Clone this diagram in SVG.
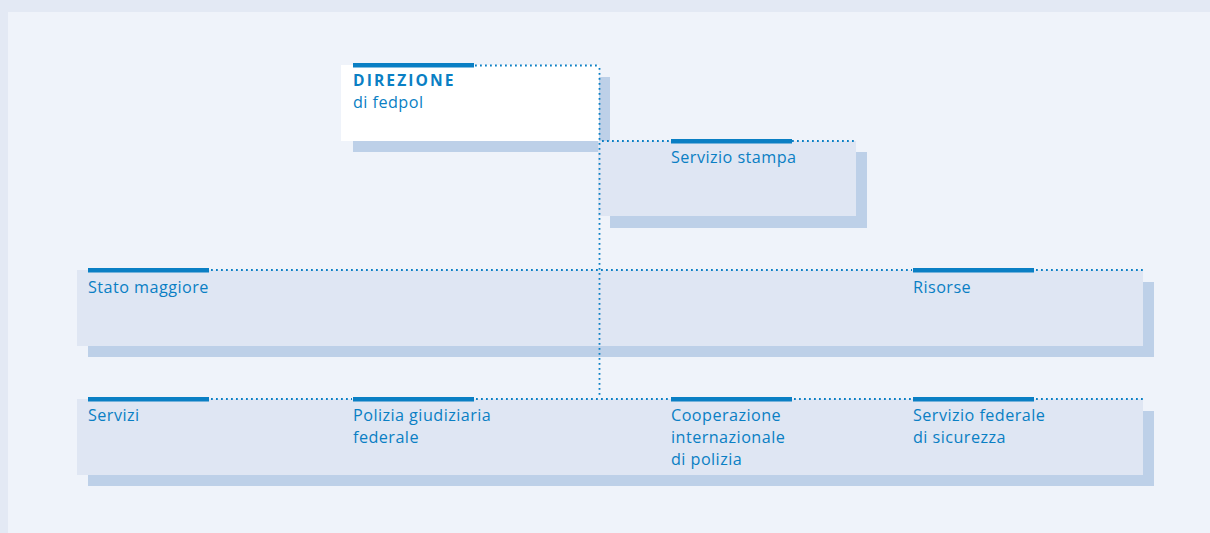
<svg xmlns="http://www.w3.org/2000/svg" width="1210" height="533" viewBox="0 0 1210 533">
<style>
.bg{fill:#e3e9f4}
.panel{fill:#eff3fa}
.box{fill:#dfe6f3}
.white{fill:#ffffff}
.shadow{fill:#bdd0e8}
.bar{fill:#0a7fc4}
.dot{stroke:#0a7fc4;stroke-width:1.8;stroke-dasharray:1.8 3.2;fill:none}
.t{font-family:"Open Sans","Noto Sans",sans-serif;font-size:16.2px;letter-spacing:0.45px;fill:#0a7fc4}
.tb{font-family:"Open Sans","Noto Sans",sans-serif;font-size:15.6px;font-weight:bold;letter-spacing:2.1px;fill:#0a7fc4}
</style>
<rect class="bg" x="0" y="0" width="1210" height="533"/>
<rect class="panel" x="8" y="12" width="1202" height="521"/>
<g id="direzione">
<rect class="shadow" x="353" y="77" width="257" height="75"/>
<rect class="white" x="341" y="65" width="258" height="76"/>
<rect class="bar" x="353" y="63" width="121" height="4.5"/>
<text class="tb" x="353" y="86">DIREZIONE</text>
<text class="t" x="353" y="108.2">di fedpol</text>
</g>
<g id="servizio-stampa">
<rect class="shadow" x="610" y="152" width="257" height="76"/>
<rect class="box" x="598" y="141" width="258" height="75"/>
<rect class="bar" x="671" y="139" width="121" height="4.5"/>
<text class="t" x="671" y="162.5">Servizio stampa</text>
</g>
<g id="row-staff">
<rect class="shadow" x="88" y="282" width="1066" height="75"/>
<rect class="box" x="77" y="270" width="1066" height="76"/>
</g>
<g id="stato-maggiore">
<rect class="bar" x="88" y="268" width="121" height="4.5"/>
<text class="t" x="88" y="293">Stato maggiore</text>
</g>
<g id="risorse">
<rect class="bar" x="913" y="268" width="121" height="4.5"/>
<text class="t" x="913" y="293">Risorse</text>
</g>
<g id="row-divisions">
<rect class="shadow" x="88" y="411" width="1066" height="75"/>
<rect class="box" x="77" y="399" width="1066" height="76"/>
</g>
<g id="servizi">
<rect class="bar" x="88" y="397" width="121" height="4.5"/>
<text class="t" x="88" y="421">Servizi</text>
</g>
<g id="polizia">
<rect class="bar" x="353" y="397" width="121" height="4.5"/>
<text class="t" x="353" y="421">Polizia giudiziaria</text>
<text class="t" x="353" y="443.2">federale</text>
</g>
<g id="cooperazione">
<rect class="bar" x="671" y="397" width="121" height="4.5"/>
<text class="t" x="671" y="421">Cooperazione</text>
<text class="t" x="671" y="443.2">internazionale</text>
<text class="t" x="671" y="465.4">di polizia</text>
</g>
<g id="sicurezza">
<rect class="bar" x="913" y="397" width="121" height="4.5"/>
<text class="t" x="913" y="421">Servizio federale</text>
<text class="t" x="913" y="443.2">di sicurezza</text>
</g>
<g id="connectors">
<line class="dot" x1="475" y1="65.5" x2="600" y2="65.5"/>
<line class="dot" x1="599.5" y1="68" x2="599.5" y2="398"/>
<line class="dot" x1="602" y1="141" x2="857" y2="141"/>
<line class="dot" x1="211" y1="270" x2="912" y2="270"/>
<line class="dot" x1="1036" y1="270" x2="1144" y2="270"/>
<line class="dot" x1="211" y1="399" x2="352" y2="399"/>
<line class="dot" x1="476" y1="399" x2="670" y2="399"/>
<line class="dot" x1="794" y1="399" x2="912" y2="399"/>
<line class="dot" x1="1036" y1="399" x2="1144" y2="399"/>
</g>
</svg>
